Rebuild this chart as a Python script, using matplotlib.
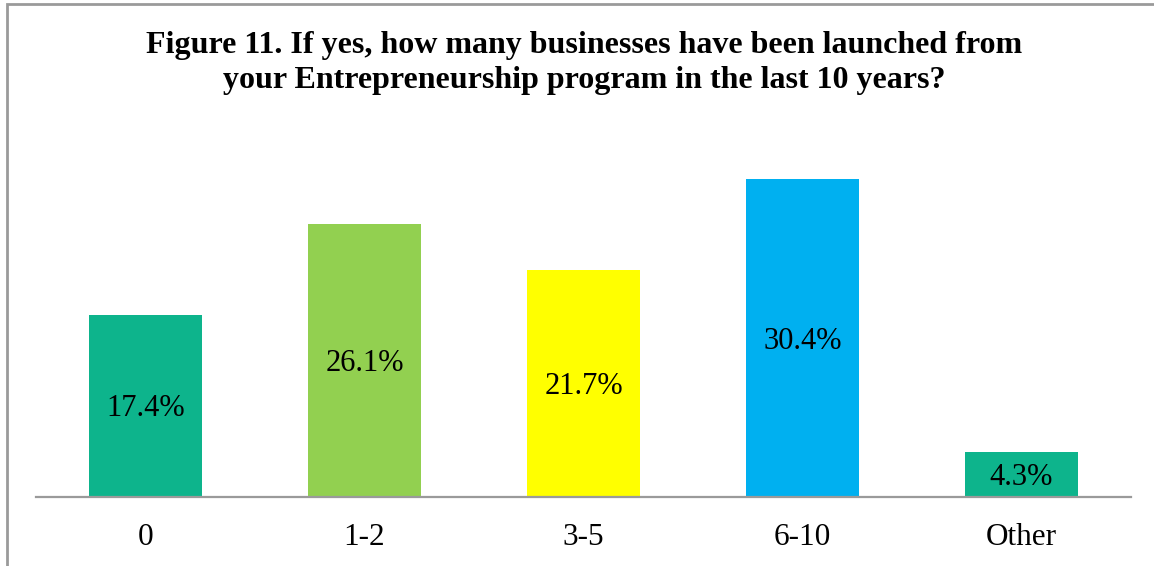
import matplotlib
matplotlib.use("Agg")
import matplotlib.pyplot as plt
from matplotlib.patches import Rectangle

categories = ["0", "1-2", "3-5", "6-10", "Other"]
values = [17.4, 26.1, 21.7, 30.4, 4.3]
colors = ["#0DB48C", "#92D050", "#FFFF00", "#00B0F0", "#0DB48C"]
title_lines = ["Figure 11. If yes, how many businesses have been launched from",
               "your Entrepreneurship program in the last 10 years?"]

plt.rcParams["font.family"] = ["Liberation Serif", "DejaVu Serif"]

W, H = 1154, 566
fig = plt.figure(figsize=(W / 100, H / 100), dpi=100)
fig.patch.set_facecolor("white")

# chart frame (open on the right and bottom)
fig.patches.append(Rectangle((6.5 / W, -0.5), 2.0, 1 - 3.5 / H + 0.5,
                             transform=fig.transFigure, fill=False,
                             edgecolor="#9A9A9A", linewidth=2.0))

ax = fig.add_axes([36 / W, 1 - 496.5 / H, (1131 - 36) / W, 365 / H])
x = range(len(categories))
bars = ax.bar(x, values, width=0.516, color=colors, zorder=2)
ax.set_xlim(-0.5, len(categories) - 0.5)
ax.set_ylim(0, 35)

# value labels: digits centred vertically in each bar
for rect, v in zip(bars, values):
    ax.annotate(f"{v:.1f}%", (rect.get_x() + rect.get_width() / 2, v / 2),
                xytext=(0, -7.6), textcoords="offset points",
                ha="center", va="baseline", fontsize=22, color="black",
                zorder=3)

ax.set_xticks(list(x))
ax.set_xticklabels(categories, fontsize=22.5)
ax.tick_params(axis="x", length=0, pad=19)
ax.set_yticks([])
for s in ["left", "right", "top"]:
    ax.spines[s].set_visible(False)
ax.spines["bottom"].set_color("#9A9A9A")
ax.spines["bottom"].set_linewidth(1.6)
ax.spines["bottom"].set_zorder(4)

for line, base in zip(title_lines, [53, 88]):
    fig.text(584.5 / W, 1 - base / H, line, ha="center", va="baseline",
             fontsize=23, fontweight="bold")

fig.savefig("out.png", dpi=100, facecolor="white")
